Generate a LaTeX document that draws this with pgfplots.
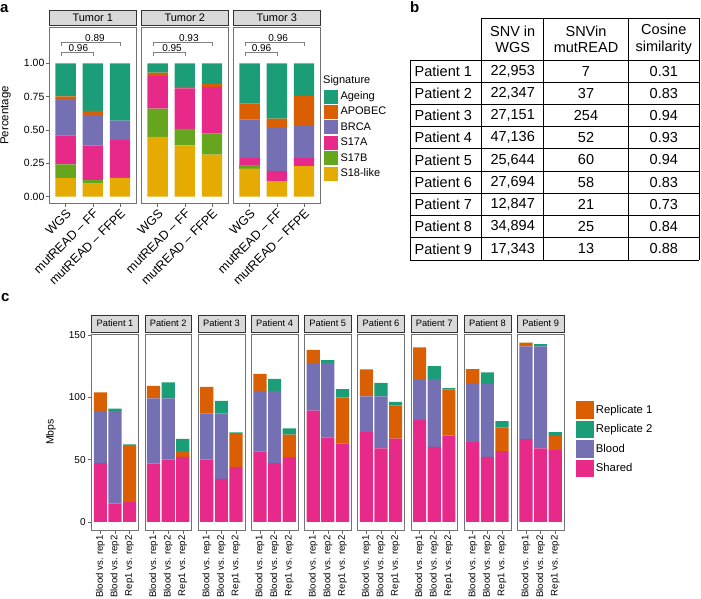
\documentclass[border=0pt]{standalone}
\usepackage{pgfplots}
\pgfplotsset{compat=1.18}
\usepackage{pgfplotstable}
\usepackage{fontspec}
\setmainfont{Liberation Sans}
\definecolor{cAge}{HTML}{1B9E77}
\definecolor{cAPO}{HTML}{D95F02}
\definecolor{cBRCA}{HTML}{7570B3}
\definecolor{cSA}{HTML}{E7298A}
\definecolor{cSB}{HTML}{66A61E}
\definecolor{cS18}{HTML}{E6AB02}
\definecolor{stripfill}{HTML}{D9D9D9}

% ---------- panel a data (segment heights, bottom to top) ----------
\pgfplotstableread{
x S18 S17B S17A BRCA APOBEC Age
1 0.14 0.1025 0.2175 0.2725 0.02 0.2475
2 0.0975 0.0275 0.2575 0.23 0.03 0.3575
3 0.14 0 0.285 0.145 0 0.43
}\tTa
\pgfplotstableread{
x S18 S17B S17A BRCA APOBEC Age
1 0.4475 0.2125 0.245 0 0.025 0.07
2 0.385 0.1225 0.305 0 0.01 0.1775
3 0.315 0.1575 0.35 0 0.0225 0.155
}\tTb
\pgfplotstableread{
x S18 S17B S17A BRCA APOBEC Age
1 0.21 0.025 0.056 0.287 0.12 0.302
2 0.116 0 0.077 0.322 0.07 0.415
3 0.229 0 0.06 0.241 0.226 0.244
}\tTc

% ---------- panel c data (Shared, Blood, Replicate 1, Replicate 2) ----------
\pgfplotstableread{
x S B R1 R2
1 47.2 42.0 14.8 0
2 14.6 74.6 0 1.9
3 15.9 0 45.8 0.6
}\tPa
\pgfplotstableread{
x S B R1 R2
1 46.9 52.3 10.2 0
2 50.1 49.1 0 12.9
3 52.3 0 4.6 9.9
}\tPb
\pgfplotstableread{
x S B R1 R2
1 50.1 37.2 21.3 0
2 34.5 52.8 0 10.0
3 44.2 0 27.2 0.6
}\tPc
\pgfplotstableread{
x S B R1 R2
1 56.6 48.8 13.6 0
2 47.2 58.2 0 9.6
3 52.0 0 18.1 5.1
}\tPd
\pgfplotstableread{
x S B R1 R2
1 89.5 38.3 10.5 0
2 67.9 59.9 0 2.2
3 63.1 0 36.9 6.7
}\tPe
\pgfplotstableread{
x S B R1 R2
1 72.4 28.4 21.7 0
2 59.0 41.8 0 11.0
3 67.0 0 26.6 2.9
}\tPf
\pgfplotstableread{
x S B R1 R2
1 82.0 33.0 25.2 0
2 60.3 54.7 0 10.2
3 69.4 0 37.0 1.1
}\tPg
\pgfplotstableread{
x S B R1 R2
1 64.1 46.9 11.8 0
2 52.3 58.7 0 9.1
3 56.8 0 19.1 5.1
}\tPh
\pgfplotstableread{
x S B R1 R2
1 66.5 74.5 3.0 0
2 59.0 82.0 0 1.9
3 57.6 0 11.3 3.2
}\tPi

\pgfplotsset{
  base/.style={scale only axis, ybar stacked, enlargelimits=false,
    xmin=0.4, xmax=3.6, xtick={1,2,3},
    axis line style={black!55, line width=0.6pt},
    tick style={black!60, line width=0.6pt}, tick align=outside,
    major tick length=3.2pt,
    xtick pos=left, ytick pos=left, clip=false,
    /pgf/number format/assume math mode=true,
    every axis title/.style={at={(0.5,1)}, anchor=south, yshift=1.6pt,
      draw=black!80, fill=stripfill, line width=0.6pt, inner sep=0pt},
  },
  apanel/.style={base, width=87pt, height=176pt, bar width=0.75,
    ymin=-0.05, ymax=1.27, ytick=\empty,
    xticklabels={WGS, mutREAD -- FF, mutREAD -- FFPE},
    xticklabel style={rotate=45, anchor=north east, inner sep=1pt,
      font=\fontsize{12.5}{14}\selectfont},
    title style={minimum width=87pt, minimum height=15pt,
      font=\fontsize{11}{13}\selectfont},
  },
  cpanel/.style={base, width=46.8pt, height=196pt, bar width=0.9,
    ymin=-6.5, ymax=151, ytick=\empty, major tick length=3.8pt,
    xticklabels={Blood vs. rep1, Blood vs. rep2, Rep1 vs. rep2},
    xticklabel style={rotate=90, anchor=east, inner sep=1.5pt,
      font=\fontsize{9.6}{11}\selectfont},
    title style={minimum width=46.8pt, minimum height=17pt,
      font=\fontsize{9.3}{11}\selectfont},
  },
  sqA/.style={legend image code/.code={\fill[##1, draw=none] (0pt,-7pt) rectangle (14pt,7pt);}},
  sqC/.style={legend image code/.code={\fill[##1, draw=none] (0pt,-8.65pt) rectangle (17.3pt,8.65pt);}},
}

% #1 x-left, #2 title, #3 extra options, #4 pre-commands, #5 table, #6 annotations
\newcommand{\aplot}[6]{%
\begin{axis}[apanel, at={(#1pt,-203.3pt)}, anchor=south west, title={#2}, #3]
#4
\addplot[fill=cS18, draw=none] table[x=x,y=S18]{#5};
\addplot[fill=cSB, draw=none] table[x=x,y=S17B]{#5};
\addplot[fill=cSA, draw=none] table[x=x,y=S17A]{#5};
\addplot[fill=cBRCA, draw=none] table[x=x,y=BRCA]{#5};
\addplot[fill=cAPO, draw=none] table[x=x,y=APOBEC]{#5};
\addplot[fill=cAge, draw=none] table[x=x,y=Age]{#5};
#6
\end{axis}}

% bracket: #1 left x, #2 right x, #3 level, #4 tick end, #5 label x, #6 label
\newcommand{\brk}[6]{%
\draw[black!50, line width=0.6pt] (axis cs:#1,#4) -- (axis cs:#1,#3) -- (axis cs:#2,#3) -- (axis cs:#2,#4);
\node[anchor=south, inner sep=1pt, font=\fontsize{10}{12}\selectfont] at (axis cs:#5,#3) {#6};}

% #1 x-left, #2 title, #3 extra options, #4 pre-commands, #5 table
\newcommand{\cplot}[5]{%
\begin{axis}[cpanel, at={(#1pt,-530pt)}, anchor=south west, title={#2}, #3]
#4
\addplot[fill=cSA, draw=none] table[x=x,y=S]{#5};
\addplot[fill=cBRCA, draw=none] table[x=x,y=B]{#5};
\addplot[fill=cAPO, draw=none] table[x=x,y=R1]{#5};
\addplot[fill=cAge, draw=none] table[x=x,y=R2]{#5};
\end{axis}}

\newcommand{\tabfont}{\fontsize{14.5}{16.7}\selectfont}

\begin{document}
\begin{tikzpicture}[x=1pt,y=1pt]
\path[use as bounding box] (0,0) rectangle (701,-599);

% panel labels
\node[anchor=base west, inner sep=0pt, font=\fontsize{15}{18}\selectfont\bfseries] at (0,-13) {a};
\node[anchor=base west, inner sep=0pt, font=\fontsize{15}{18}\selectfont\bfseries] at (410,-13) {b};
\node[anchor=base west, inner sep=0pt, font=\fontsize{15}{18}\selectfont\bfseries] at (1,-301) {c};

% ---------------- panel a ----------------
\aplot{49.3}{Tumor 1}{ytick={0,0.25,0.5,0.75,1},
  yticklabels={0.00,0.25,0.50,0.75,1.00},
  yticklabel style={font=\fontsize{10.5}{12}\selectfont, inner sep=1.5pt},
  ylabel={Percentage},
  ylabel style={at={(axis description cs:-0.503,0.5)}, anchor=center,
    font=\fontsize{11.5}{13}\selectfont}}{}{\tTa}{%
  \brk{0.85}{2}{1.0825}{1.0575}{1.47}{0.96}
  \brk{0.85}{3}{1.1575}{1.1325}{2.08}{0.89}}

\aplot{141.3}{Tumor 2}{}{}{\tTb}{%
  \brk{0.85}{2}{1.0825}{1.0575}{1.53}{0.95}
  \brk{0.85}{3}{1.1575}{1.1325}{2.15}{0.93}}

\aplot{233.3}{Tumor 3}{sqA,
  legend style={at={(1.038,0.6477)}, anchor=north west, draw=none, fill=none,
    inner sep=0pt, row sep=1.4pt, column sep=0pt,
    font=\fontsize{11}{13}\selectfont, nodes={inner ysep=0pt, inner xsep=2.7pt}},
  legend cell align=left}{%
  \addlegendimage{fill=cAge, draw=none}
  \addlegendimage{fill=cAPO, draw=none}
  \addlegendimage{fill=cBRCA, draw=none}
  \addlegendimage{fill=cSA, draw=none}
  \addlegendimage{fill=cSB, draw=none}
  \addlegendimage{fill=cS18, draw=none}
  \legend{Ageing,APOBEC,BRCA,S17A,S17B,S18-like}}{\tTc}{%
  \brk{0.85}{2}{1.0825}{1.0575}{1.44}{0.96}
  \brk{0.85}{3}{1.1575}{1.1325}{2.05}{0.96}
  \node[anchor=west, inner sep=0pt, font=\fontsize{11}{13}\selectfont]
    at (rel axis cs:1.031,0.695) {Signature};}

% ---------------- panel b (table) ----------------
\begin{scope}[line width=0.8pt]
\draw (481.7,-18.3) -- (699.3,-18.3);
\foreach \k in {0,...,9} \draw (410,{-60-22.222*\k}) -- (699.3,{-60-22.222*\k});
\draw (410,-60) -- (410,-260);
\foreach \xx in {481.7,543.7,628.3,699.3} \draw (\xx,-18.3) -- (\xx,-260);
\end{scope}
\node[align=center, font=\tabfont, inner sep=0pt] at (512.7,-39.2) {SNV in\\WGS};
\node[align=center, font=\tabfont, inner sep=0pt] at (586,-39.2) {SNVin\\mutREAD};
\node[align=center, font=\tabfont, inner sep=0pt] at (663.8,-39.2) {Cosine\\similarity};
\foreach \i/\a/\b/\c in {1/{22,953}/7/0.31, 2/{22,347}/37/0.83, 3/{27,151}/254/0.94,
  4/{47,136}/52/0.93, 5/{25,644}/60/0.94, 6/{27,694}/58/0.83, 7/{12,847}/21/0.73,
  8/{34,894}/25/0.84, 9/{17,343}/13/0.88}{
  \node[anchor=west, font=\tabfont, inner sep=0pt] at (414.5,{-60-22.222*(\i-0.5)}) {Patient \i};
  \node[font=\tabfont, inner sep=0pt] at (512.7,{-60-22.222*(\i-0.5)}) {\a};
  \node[font=\tabfont, inner sep=0pt] at (586,{-60-22.222*(\i-0.5)}) {\b};
  \node[font=\tabfont, inner sep=0pt] at (663.8,{-60-22.222*(\i-0.5)}) {\c};
}

% ---------------- panel c ----------------
\cplot{91.6}{Patient 1}{ytick={0,50,100,150}, yticklabels={0,50,100,150},
  yticklabel style={font=\fontsize{10}{12}\selectfont, inner sep=2pt},
  ylabel={Mbps},
  ylabel style={at={(axis description cs:-0.872,0.5)}, anchor=center,
    font=\fontsize{10.5}{12}\selectfont}}{}{\tPa}
\cplot{144.8}{Patient 2}{}{}{\tPb}
\cplot{198.0}{Patient 3}{}{}{\tPc}
\cplot{251.2}{Patient 4}{}{}{\tPd}
\cplot{304.4}{Patient 5}{}{}{\tPe}
\cplot{357.6}{Patient 6}{}{}{\tPf}
\cplot{410.8}{Patient 7}{}{}{\tPg}
\cplot{464.0}{Patient 8}{}{}{\tPh}
\cplot{517.2}{Patient 9}{sqC,
  legend style={at={(1.261,0.658)}, anchor=north west, draw=none, fill=none,
    inner sep=0pt, row sep=2.2pt, column sep=0pt,
    font=\fontsize{11.3}{13}\selectfont, nodes={inner ysep=0pt, inner xsep=2.2pt}},
  legend cell align=left}{%
  \addlegendimage{fill=cAPO, draw=none}
  \addlegendimage{fill=cAge, draw=none}
  \addlegendimage{fill=cBRCA, draw=none}
  \addlegendimage{fill=cSA, draw=none}
  \legend{Replicate 1,Replicate 2,Blood,Shared}}{\tPi}

\end{tikzpicture}
\end{document}
